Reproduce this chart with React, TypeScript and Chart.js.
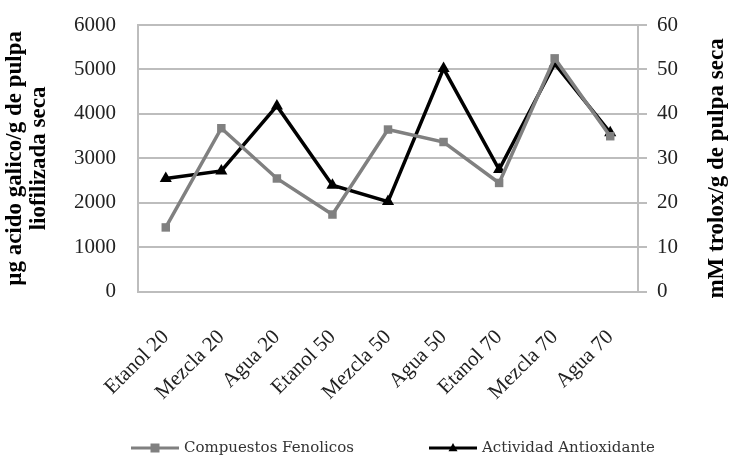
import { useEffect, useRef } from "react";
import { Chart, registerables } from "chart.js";

Chart.register(...registerables);

const categories = [
  "Etanol 20",
  "Mezcla 20",
  "Agua 20",
  "Etanol 50",
  "Mezcla 50",
  "Agua 50",
  "Etanol 70",
  "Mezcla 70",
  "Agua 70",
];

// µg ácido gálico / g de pulpa liofilizada seca
const compuestosFenolicos = [1450, 3680, 2550, 1740, 3650, 3370, 2450, 5250, 3500];
// mM trolox / g de pulpa seca
const actividadAntioxidante = [25.5, 27.2, 41.8, 24.0, 20.3, 50.2, 27.5, 51.3, 35.8];

const leftTitle = ["µg acido galico/g de pulpa", "liofilizada seca"];
const rightTitle = "mM trolox/g de pulpa seca";
const legendLabels = ["Compuestos Fenolicos", "Actividad Antioxidante"];

const SERIF = "'Liberation Serif', 'Times New Roman', serif";
const GRID = "#bdbdbd";
const GRAY = "#808080";

function drawMarker(ctx: CanvasRenderingContext2D, style: string, x: number, y: number, r: number) {
  ctx.beginPath();
  if (style === "rect") {
    ctx.rect(x - r, y - r, 2 * r, 2 * r);
  } else {
    ctx.moveTo(x, y - r * 1.1);
    ctx.lineTo(x + r, y + r * 0.7);
    ctx.lineTo(x - r, y + r * 0.7);
    ctx.closePath();
  }
  ctx.fill();
}

// Bottom legend with a line segment and marker per series, plus the
// right-hand axis title written bottom-to-top.
const extrasPlugin = {
  id: "extras",
  afterDraw(chart: any) {
    const ctx: CanvasRenderingContext2D = chart.ctx;
    const area = chart.chartArea;
    ctx.save();

    // right axis title
    ctx.fillStyle = "#000";
    ctx.font = `bold 23px ${SERIF}`;
    ctx.textAlign = "center";
    ctx.textBaseline = "middle";
    ctx.translate(chart.width - 12, (area.top + area.bottom) / 2 + 10);
    ctx.rotate(-Math.PI / 2);
    ctx.fillText(rightTitle, 0, 0);
    ctx.restore();

    // legend
    ctx.save();
    const ly = 448;
    const items = [
      { x: 131, color: GRAY, style: "rect", label: legendLabels[0] },
      { x: 429, color: "#000", style: "triangle", label: legendLabels[1] },
    ];
    ctx.font = `15px 'DejaVu Serif', serif`;
    ctx.textBaseline = "middle";
    ctx.textAlign = "left";
    for (const it of items) {
      ctx.strokeStyle = it.color;
      ctx.fillStyle = it.color;
      ctx.lineWidth = 3;
      ctx.beginPath();
      ctx.moveTo(it.x, ly);
      ctx.lineTo(it.x + 48, ly);
      ctx.stroke();
      drawMarker(ctx, it.style, it.x + 24, ly, 4.5);
      ctx.fillStyle = "#333";
      ctx.fillText(it.label, it.x + 53, ly);
    }
    ctx.restore();
  },
};

export default function App() {
  const canvasRef = useRef<HTMLCanvasElement | null>(null);

  useEffect(() => {
    document.body.style.margin = "0";
    const canvas = canvasRef.current;
    if (!canvas) return;

    const chart = new Chart(canvas, {
      type: "line",
      data: {
        labels: categories,
        datasets: [
          {
            label: legendLabels[0],
            data: compuestosFenolicos,
            yAxisID: "y",
            borderColor: GRAY,
            backgroundColor: GRAY,
            borderWidth: 3.5,
            pointStyle: "rect",
            pointRadius: 6,
            pointBorderWidth: 0,
            tension: 0,
          },
          {
            label: legendLabels[1],
            data: actividadAntioxidante,
            yAxisID: "y1",
            borderColor: "#000",
            backgroundColor: "#000",
            borderWidth: 3.5,
            pointStyle: "triangle",
            pointRadius: 7,
            pointBorderWidth: 0,
            tension: 0,
          },
        ],
      },
      options: {
        responsive: false,
        animation: false,
        devicePixelRatio: 1,
        layout: { padding: { left: 3, right: 41, top: 25, bottom: 28 } },
        plugins: {
          legend: { display: false },
          tooltip: { enabled: false },
        },
        scales: {
          x: {
            offset: true,
            grid: { display: false },
            border: { display: true, color: GRID, width: 2 },
            ticks: {
              color: "#222",
              font: { family: SERIF, size: 21 },
              minRotation: 45,
              maxRotation: 45,
              padding: 25,
            },
          },
          y: {
            position: "left",
            min: 0,
            max: 6000,
            afterFit: (scale: any) => {
              scale.width = 135;
            },
            ticks: {
              stepSize: 1000,
              color: "#222",
              font: { family: SERIF, size: 21 },
              padding: 2,
              callback: (v: any) => String(v),
            },
            grid: {
              color: GRID,
              lineWidth: 2,
              tickLength: 20,
              tickColor: "rgba(0,0,0,0)",
            },
            border: { display: true, color: GRID, width: 2 },
            title: {
              display: true,
              text: leftTitle,
              color: "#000",
              font: { family: SERIF, size: 23, weight: "bold", lineHeight: 1.05 },
              padding: { top: 0, bottom: 4 },
            },
          },
          y1: {
            position: "right",
            min: 0,
            max: 60,
            ticks: {
              stepSize: 10,
              color: "#222",
              font: { family: SERIF, size: 21 },
              padding: 10,
              callback: (v: any) => String(v),
            },
            grid: { color: GRID, lineWidth: 2, drawOnChartArea: false, tickLength: 9 },
            border: { display: true, color: GRID, width: 2 },
          },
        },
      },
      plugins: [extrasPlugin],
    });

    return () => chart.destroy();
  }, []);

  return (
    <div style={{ width: 729, height: 458 }}>
      <canvas ref={canvasRef} width={729} height={458} />
    </div>
  );
}
